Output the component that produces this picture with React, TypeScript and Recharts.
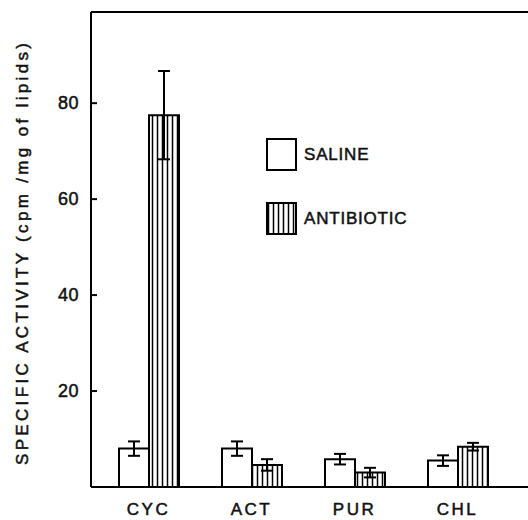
import { Bar, BarChart, ErrorBar, Legend, ReferenceLine, XAxis, YAxis } from "recharts";

const categories = ["CYC", "ACT", "PUR", "CHL"];
const saline = [8, 8, 5.8, 5.5];
const salineErr = [1.5, 1.5, 1.1, 1.1];
const antibiotic = [77.5, 4.6, 3, 8.4];
const antibioticErr = [9.2, 1.2, 1, 0.8];
const yTicks = [20, 40, 60, 80];

const data = categories.map((name, i) => ({
  name,
  saline: saline[i],
  salineErr: salineErr[i],
  antibiotic: antibiotic[i],
  antibioticErr: antibioticErr[i],
}));

const AXIS_X = 91;
const FONT = "'Liberation Sans', Arial, sans-serif";

function YTick(props: any) {
  const { y, payload } = props;
  return (
    <g>
      <line x1={AXIS_X} x2={AXIS_X + 6} y1={y} y2={y} stroke="#000" strokeWidth={2} />
      <text
        x={AXIS_X - 12}
        y={y}
        textAnchor="end"
        dominantBaseline="central"
        fontFamily={FONT}
        fontSize={18}
        letterSpacing={0.5}
        fill="#111"
        stroke="#111"
        strokeWidth={0.5}
      >
        {payload.value}
      </text>
    </g>
  );
}

function LegendBox() {
  const item = (label: string, striped: boolean, top: number) => (
    <div style={{ position: "absolute", left: 0, top, display: "flex", alignItems: "center" }}>
      <svg width={32} height={34}>
        <rect
          x={1}
          y={1}
          width={29}
          height={31}
          fill={striped ? "url(#stripes)" : "#fff"}
          stroke="#000"
          strokeWidth={2}
        />
      </svg>
      <span
        style={{
          marginLeft: 6,
          fontFamily: FONT,
          fontSize: 17,
          letterSpacing: 0.8,
          color: "#111",
          WebkitTextStroke: "0.5px #111",
        }}
      >
        {label}
      </span>
    </div>
  );
  return (
    <div style={{ position: "relative", width: 160, height: 100 }}>
      {item("SALINE", false, 0)}
      {item("ANTIBIOTIC", true, 64)}
    </div>
  );
}

export default function App() {
  return (
    <div style={{ position: "absolute", left: 0, top: 0, background: "#fff" }}>
      <BarChart
        width={528}
        height={520}
        data={data}
        margin={{ top: 12, right: 0, bottom: 3, left: 0 }}
        barGap={0}
        barSize={30}
      >
        <defs>
          <pattern id="stripes" width={5} height={10} patternUnits="userSpaceOnUse">
            <rect width={5} height={10} fill="#fff" />
            <line x1={2.5} y1={0} x2={2.5} y2={10} stroke="#000" strokeWidth={1.5} />
          </pattern>
        </defs>
        <XAxis
          dataKey="name"
          height={30}
          padding={{ left: 6, right: 19 }}
          axisLine={{ stroke: "#000", strokeWidth: 2 }}
          tickLine={false}
          tickMargin={10}
          tick={{
            fontFamily: FONT,
            fontSize: 17,
            fill: "#111",
            stroke: "#111",
            strokeWidth: 0.5,
            letterSpacing: 2.5,
          }}
        />
        <YAxis
          width={AXIS_X}
          domain={[0, 99]}
          ticks={yTicks}
          axisLine={{ stroke: "#000", strokeWidth: 2 }}
          tickLine={false}
          tick={<YTick />}
          label={() => (
            <text
              x={22}
              y={254}
              transform="rotate(-90 22 254)"
              textAnchor="middle"
              dominantBaseline="central"
              fontFamily={FONT}
              fontSize={17}
              textLength={422}
              lengthAdjust="spacing"
              fill="#111"
              stroke="#111"
              strokeWidth={0.5}
            >
              SPECIFIC ACTIVITY (cpm /mg of  lipids)
            </text>
          )}
        />
        <ReferenceLine y={99} stroke="#000" strokeWidth={2} />
        <Legend
          layout="vertical"
          align="center"
          verticalAlign="middle"
          content={() => <LegendBox />}
          wrapperStyle={{ position: "absolute", left: 266, top: 138, width: 170 }}
        />
        <Bar dataKey="saline" fill="#fff" stroke="#000" strokeWidth={2} isAnimationActive={false}>
          <ErrorBar dataKey="salineErr" width={6} stroke="#000" strokeWidth={2} direction="y" />
        </Bar>
        <Bar
          dataKey="antibiotic"
          fill="url(#stripes)"
          stroke="#000"
          strokeWidth={2}
          isAnimationActive={false}
        >
          <ErrorBar dataKey="antibioticErr" width={6} stroke="#000" strokeWidth={2} direction="y" />
        </Bar>
      </BarChart>
    </div>
  );
}
